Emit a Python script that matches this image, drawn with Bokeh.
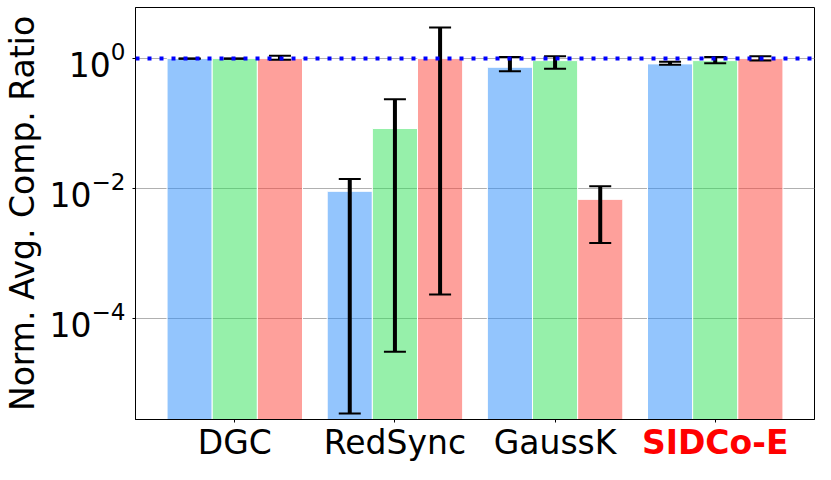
from bokeh.plotting import figure
from bokeh.models import (Range1d, FixedTicker, ColumnDataSource, Whisker, TeeHead, Span,
                          LinearAxis)
from bokeh.embed import file_html
from bokeh.resources import INLINE

methods = ["DGC", "RedSync", "GaussK", "SIDCo-E"]

blue_vals = [1.0, 0.0091, 0.735, 0.828]
blue_lo = [0.995, 3.5e-6, 0.638, 0.80]
blue_hi = [1.005, 0.0141, 1.06, 0.89]

green_vals = [1.0, 0.084, 0.93, 0.93]
green_lo = [0.995, 3.1e-5, 0.70, 0.85]
green_hi = [1.005, 0.237, 1.085, 1.06]

red_vals = [1.0, 1.0, 0.00684, 1.0]
red_lo = [0.955, 2.36e-4, 0.00146, 0.93]
red_hi = [1.10, 3.0, 0.0109, 1.085]

y_ticks = [1e-4, 1e-2, 1.0]
ref_level = 1.0

FONT = "DejaVu Sans"
Y_TOP_EXP = 0.785
Y_BOT_EXP = -5.55

p = figure(width=815, height=464, y_axis_type="log",
           x_range=Range1d(-0.62, 3.62), y_range=Range1d(10 ** Y_BOT_EXP, 10 ** Y_TOP_EXP),
           output_backend="svg", toolbar_location=None,
           min_border_left=132, min_border_right=1, min_border_top=7, min_border_bottom=40)
p.background_fill_color = "white"
p.border_fill_color = "white"
p.outline_line_color = "black"
p.outline_line_width = 1

width = 0.282
series = [
    (blue_vals, blue_lo, blue_hi, "#278bfb", -width),
    (green_vals, green_lo, green_hi, "#2de155", 0.0),
    (red_vals, red_lo, red_hi, "#fd4137", width),
]
for vals, lo, hi, col, off in series:
    xs = [i + off for i in range(len(methods))]
    src = ColumnDataSource(dict(x=xs, top=vals, bottom=[1e-9] * len(vals), lo=lo, hi=hi))
    p.vbar(x="x", top="top", bottom="bottom", width=width, source=src,
           fill_color=col, fill_alpha=0.5, line_color="white", line_width=1)
    w = Whisker(base="x", lower="lo", upper="hi", source=src, dimension="height",
                line_color="black", line_width=4, level="annotation",
                upper_head=TeeHead(size=22, line_color="black", line_width=2),
                lower_head=TeeHead(size=22, line_color="black", line_width=2))
    p.add_layout(w)

p.add_layout(Span(location=ref_level, dimension="width", line_color="#0000ff",
                  line_width=4, line_dash="4 8", level="annotation"))

# axes
p.xgrid.visible = False
yt = FixedTicker(ticks=y_ticks, minor_ticks=[])
p.yaxis.ticker = yt
p.ygrid.ticker = yt
p.ygrid.grid_line_color = "#b0b0b0"
p.ygrid.grid_line_width = 1

cat_ticks = list(range(len(methods)))
p.xaxis.ticker = FixedTicker(ticks=cat_ticks, minor_ticks=[])
p.xaxis.major_label_overrides = {0: methods[0], 1: methods[1], 2: methods[2], 3: " "}

for ax in (p.xaxis, p.yaxis):
    ax.axis_line_color = "black"
    ax.major_tick_line_color = "black"
    ax.major_tick_out = 3
    ax.major_tick_in = 0
    ax.minor_tick_out = 0
    ax.minor_tick_in = 0
    ax.major_label_text_font = FONT
    ax.major_label_text_font_size = "33px"
    ax.major_label_text_color = "black"

p.xaxis.major_label_standoff = 0
p.yaxis.major_label_standoff = 7
p.yaxis.axis_label = "Norm. Avg. Comp. Ratio"
p.yaxis.axis_label_text_font = FONT
p.yaxis.axis_label_text_font_size = "33px"
p.yaxis.axis_label_text_font_style = "normal"
p.yaxis.axis_label_text_color = "black"
p.yaxis.axis_label_standoff = 4

# highlighted category label: a second bottom axis whose label is pulled up
# into the same row as the other category labels
hl = LinearAxis(ticker=FixedTicker(ticks=[3], minor_ticks=[]),
                major_label_overrides={3: methods[3]},
                axis_line_color=None, major_tick_line_color=None,
                major_tick_out=3, major_tick_in=0, minor_tick_out=0, minor_tick_in=0,
                major_label_standoff=-45,
                major_label_text_font=FONT, major_label_text_font_size="33px",
                major_label_text_font_style="bold", major_label_text_color="#ff0000")
p.add_layout(hl, "below")

with open("out.html", "w", encoding="utf-8") as f:
    f.write(file_html(p, INLINE))
